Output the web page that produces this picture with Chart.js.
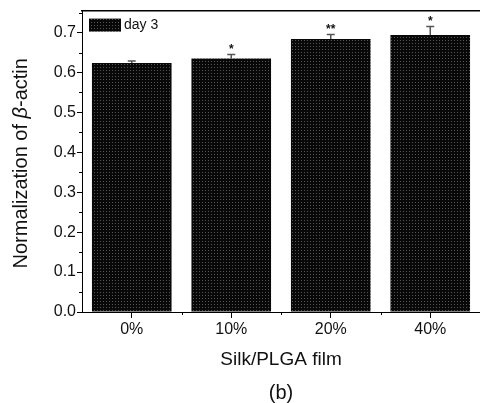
<!DOCTYPE html>
<html>
<head>
<meta charset="utf-8">
<script src="https://cdn.jsdelivr.net/npm/chart.js@4"></script>
<style>
    body { margin: 0; background: #fff; overflow: hidden; }
</style>
</head>
<body>
<canvas id="my-chart" width="480" height="403"></canvas>
<script>
const labels = ["0%", "10%", "20%", "40%"];
const values = [0.624, 0.635, 0.684, 0.694];
const errors = [0.005, 0.010, 0.011, 0.021];
const marks = ["", "*", "**", "*"];
const seriesName = "day 3";
const panelLabel = "(b)";
const yTickLabels = ["0.0", "0.1", "0.2", "0.3", "0.4", "0.5", "0.6", "0.7"];

const fontFamily = "'Liberation Sans', Arial, sans-serif";
Chart.defaults.font.family = fontFamily;
Chart.defaults.color = "#111";

// dark stipple fill like the printed bars
function makeStipple() {
    const c = document.createElement("canvas");
    c.width = 3;
    c.height = 3;
    const g = c.getContext("2d");
    g.fillStyle = "#080808";
    g.fillRect(0, 0, 3, 3);
    g.fillStyle = "#555";
    g.fillRect(1, 1, 1, 1);
    return g.createPattern(c, "repeat");
}

const extras = {
    id: "extras",
    afterDatasetsDraw(chart) {
        const ctx = chart.ctx;
        const x = chart.scales.x;
        const y = chart.scales.y;
        ctx.save();
        ctx.strokeStyle = "#555";
        ctx.lineWidth = 1.5;
        ctx.fillStyle = "#111";
        ctx.font = "bold 12px " + fontFamily;
        ctx.textAlign = "center";
        ctx.textBaseline = "alphabetic";
        values.forEach((v, i) => {
            const px = x.getPixelForValue(i);
            const base = y.getPixelForValue(v);
            const top = y.getPixelForValue(v + errors[i]);
            ctx.beginPath();
            ctx.moveTo(px, base);
            ctx.lineTo(px, top);
            ctx.moveTo(px - 4, top);
            ctx.lineTo(px + 4, top);
            ctx.stroke();
            if (marks[i]) {
                ctx.fillText(marks[i], px, top - 2);
            }
        });
        ctx.restore();
    },
    afterDraw(chart) {
        const ctx = chart.ctx;
        const x = chart.scales.x;
        const y = chart.scales.y;
        const area = chart.chartArea;
        ctx.save();

        // minor ticks
        ctx.strokeStyle = "#000";
        ctx.lineWidth = 1;
        ctx.beginPath();
        y.ticks.forEach(t => {
            const v = t.value + 0.05;
            if (v < y.max) {
                const py = Math.round(y.getPixelForValue(v)) + 0.5;
                ctx.moveTo(area.left - 3, py);
                ctx.lineTo(area.left, py);
            }
        });
        for (let i = 0; i < labels.length - 1; i++) {
            const px = Math.round((x.getPixelForValue(i) + x.getPixelForValue(i + 1)) / 2) + 0.5;
            ctx.moveTo(px, area.bottom);
            ctx.lineTo(px, area.bottom + 3);
        }
        ctx.stroke();

        // legend inside the plot, top left
        const ds = chart.data.datasets[0];
        ctx.fillStyle = ds.backgroundColor;
        ctx.fillRect(area.left + 7, area.top + 8, 32, 13);
        ctx.fillStyle = "#111";
        ctx.font = "14px " + fontFamily;
        ctx.textAlign = "left";
        ctx.textBaseline = "middle";
        ctx.fillText(ds.label, area.left + 42, area.top + 14.5);

        // panel label under the axis title
        ctx.font = "20px " + fontFamily;
        ctx.textAlign = "center";
        ctx.fillText(panelLabel, (area.left + area.right) / 2, chart.height - 10);

        // y axis title with italic beta
        const parts = [
            ["Normalization of ", ""],
            ["\u03b2", "italic "],
            ["-actin", ""]
        ];
        let total = 0;
        parts.forEach(p => {
            ctx.font = p[1] + "20px " + fontFamily;
            total += ctx.measureText(p[0]).width;
        });
        ctx.translate(27, (area.top + area.bottom) / 2 + 2);
        ctx.rotate(-Math.PI / 2);
        ctx.textAlign = "left";
        ctx.textBaseline = "alphabetic";
        let cx = -total / 2;
        parts.forEach(p => {
            ctx.font = p[1] + "20px " + fontFamily;
            ctx.fillText(p[0], cx, 0);
            cx += ctx.measureText(p[0]).width;
        });
        ctx.restore();
    }
};

const ctx = document.getElementById("my-chart").getContext("2d");

const myChart = new Chart(ctx, {
    type: "bar",
    data: {
        labels,
        datasets: [
            {
                label: seriesName,
                data: values,
                backgroundColor: makeStipple(),
                borderWidth: 0,
                barPercentage: 0.8,
                categoryPercentage: 1
            }
        ]
    },
    options: {
        responsive: false,
        animation: false,
        layout: { padding: { top: 10, left: 0, right: 0, bottom: 0 } },
        scales: {
            x: {
                offset: true,
                grid: {
                    offset: false,
                    drawOnChartArea: false,
                    drawTicks: true,
                    tickLength: 6,
                    color: "#000"
                },
                border: { color: "#000", width: 1 },
                ticks: { font: { size: 16 }, padding: 2, color: "#111" },
                title: {
                    display: true,
                    text: "Silk/PLGA film",
                    font: { size: 19 },
                    color: "#111",
                    padding: { top: 0, bottom: 32 }
                },
                afterFit(scale) { scale.height = 91; }
            },
            top: {
                type: "category",
                position: "top",
                labels,
                offset: true,
                grid: { display: false },
                border: { color: "#000", width: 1.5 },
                ticks: { display: false },
                afterFit(scale) { scale.height = 0; }
            },
            y: {
                min: 0,
                max: 0.755,
                grid: {
                    drawOnChartArea: false,
                    drawTicks: true,
                    tickLength: 5,
                    color: "#000"
                },
                border: { color: "#000", width: 1 },
                ticks: {
                    stepSize: 0.1,
                    includeBounds: false,
                    font: { size: 16 },
                    padding: 1,
                    color: "#111",
                    callback: (v, i) => yTickLabels[i]
                },
                afterFit(scale) { scale.width = 82; }
            }
        },
        plugins: {
            legend: { display: false },
            tooltip: { enabled: false }
        }
    },
    plugins: [extras]
});
</script>
</body>
</html>
